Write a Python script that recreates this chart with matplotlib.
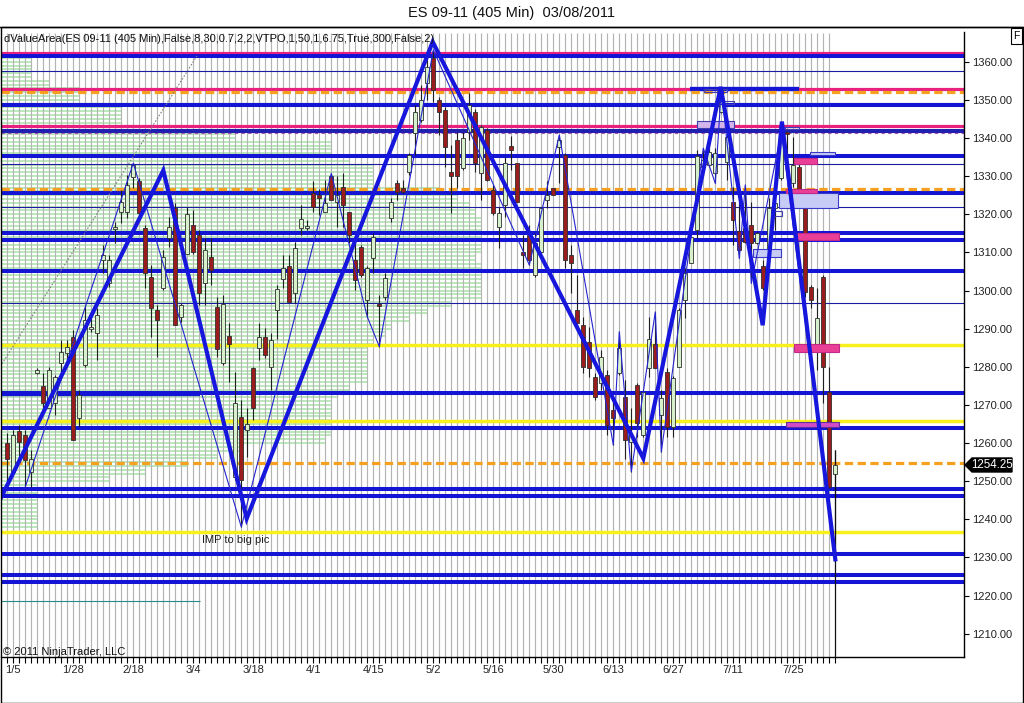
import matplotlib as mpl
mpl.use('Agg')
import matplotlib.pyplot as plt
from matplotlib.patches import Rectangle, Polygon
import numpy as np

plt.rcParams['font.family'] = ['Liberation Sans', 'DejaVu Sans']

W, H = 1024, 703

# ---- candles (one per 405 min bar) ----
opens = [1259.9, 1252.3, 1263.2, 1262.1, 1252.5, 1278.3, 1275.0, 1269.1, 1270.4, 1280.9,
         1283.5, 1287.7, 1266.7, 1280.5, 1290.0, 1288.8, 1308.0, 1301.9, 1316.2, 1320.7,
         1320.7, 1329.7, 1328.6, 1316.3, 1303.6, 1294.9, 1300.6, 1313.9, 1321.6, 1293.1,
         1309.7, 1317.2, 1314.6, 1301.9, 1308.9, 1295.8, 1280.9, 1288.0, 1251.2, 1266.9,
         1263.4, 1279.6, 1284.8, 1287.9, 1280.0, 1294.9, 1302.9, 1306.3, 1299.3, 1316.3,
         1316.5, 1325.5, 1325.0, 1320.7, 1329.9, 1323.3, 1327.2, 1320.7, 1308.0, 1311.5,
         1297.5, 1308.4, 1296.3, 1298.4, 1318.9, 1328.1, 1326.8, 1331.2, 1341.2, 1344.7,
         1354.3, 1360.9, 1349.9, 1347.3, 1331.2, 1339.5, 1332.0, 1341.6, 1346.9, 1330.7,
         1342.1, 1326.4, 1316.7, 1322.4, 1337.9, 1333.4, 1310.0, 1314.6, 1304.1, 1310.2,
         1323.7, 1326.8, 1337.7, 1335.5, 1309.3, 1294.9, 1290.9, 1286.6, 1277.4, 1275.7,
         1277.8, 1268.7, 1278.3, 1272.1, 1260.3, 1275.2, 1262.1, 1279.6, 1286.1, 1267.3,
         1278.7, 1264.3, 1280.0, 1297.5, 1307.1, 1315.9, 1332.5, 1332.9, 1330.7, 1346.9,
         1333.8, 1323.3, 1315.5, 1316.3, 1317.2, 1312.4, 1306.3, 1310.2, 1321.6, 1329.4,
         1341.3, 1328.1, 1332.5, 1322.9, 1301.0, 1286.1, 1303.5, 1273.5, 1252.0]
highs = [1262.6, 1263.4, 1264.7, 1263.4, 1258.2, 1279.8, 1278.3, 1280.0, 1277.8, 1287.0,
         1287.0, 1289.6, 1273.9, 1296.2, 1294.4, 1295.4, 1311.9, 1309.3, 1318.0, 1326.4,
         1330.3, 1333.4, 1329.4, 1317.2, 1306.7, 1296.2, 1310.6, 1319.3, 1322.9, 1296.6,
         1322.0, 1321.1, 1315.9, 1313.7, 1313.7, 1298.4, 1298.8, 1291.4, 1278.7, 1271.3,
         1269.1, 1280.0, 1291.4, 1290.1, 1288.8, 1301.4, 1309.3, 1309.3, 1312.8, 1322.4,
         1318.5, 1328.6, 1326.5, 1329.0, 1330.7, 1329.9, 1330.7, 1320.7, 1312.4, 1311.9,
         1306.3, 1315.0, 1298.8, 1304.5, 1324.2, 1329.0, 1329.0, 1336.0, 1348.6, 1353.9,
         1360.9, 1363.1, 1350.8, 1348.2, 1338.2, 1341.6, 1341.6, 1351.7, 1347.7, 1343.4,
         1342.6, 1327.7, 1322.0, 1335.1, 1340.5, 1333.4, 1314.6, 1317.2, 1315.0, 1322.0,
         1328.6, 1326.8, 1340.8, 1336.0, 1311.9, 1304.1, 1293.1, 1290.5, 1278.3, 1284.4,
         1279.1, 1272.1, 1289.2, 1276.5, 1269.1, 1275.7, 1273.5, 1293.1, 1294.4, 1273.9,
         1279.6, 1277.5, 1295.5, 1305.8, 1314.1, 1336.8, 1337.3, 1337.3, 1337.3, 1353.0,
         1344.7, 1327.2, 1323.3, 1327.7, 1323.3, 1315.3, 1308.0, 1324.2, 1323.3, 1341.6,
         1341.6, 1340.3, 1333.4, 1323.3, 1301.5, 1300.6, 1304.1, 1280.0, 1258.2]
lows = [1248.5, 1252.0, 1255.5, 1248.5, 1248.5, 1278.0, 1267.8, 1269.1, 1267.3, 1278.3,
        1281.8, 1260.8, 1264.3, 1280.0, 1289.2, 1281.8, 1304.5, 1301.0, 1312.4, 1317.6,
        1318.9, 1326.8, 1319.3, 1300.6, 1287.9, 1282.6, 1300.2, 1311.5, 1290.9, 1291.8,
        1309.7, 1309.7, 1296.2, 1296.2, 1301.4, 1282.6, 1280.5, 1276.1, 1250.3, 1238.0,
        1256.4, 1266.0, 1281.8, 1282.2, 1273.9, 1287.4, 1300.6, 1297.1, 1296.6, 1314.6,
        1315.9, 1320.7, 1319.8, 1320.7, 1323.7, 1316.7, 1316.7, 1312.4, 1300.2, 1303.6,
        1293.1, 1304.5, 1285.3, 1297.5, 1318.0, 1323.7, 1325.5, 1330.3, 1335.5, 1344.3,
        1349.9, 1349.5, 1340.8, 1332.5, 1320.2, 1326.8, 1331.6, 1339.5, 1331.2, 1323.7,
        1328.6, 1319.8, 1311.1, 1319.3, 1331.6, 1323.3, 1305.8, 1306.7, 1303.6, 1310.2,
        1321.6, 1325.0, 1328.1, 1305.8, 1299.3, 1290.5, 1278.3, 1277.4, 1271.3, 1273.9,
        1262.1, 1259.5, 1277.8, 1255.9, 1252.5, 1261.7, 1261.7, 1277.4, 1279.6, 1257.7,
        1261.7, 1261.7, 1280.0, 1292.7, 1307.1, 1313.7, 1331.6, 1332.5, 1328.1, 1346.5,
        1329.0, 1311.9, 1308.4, 1312.4, 1301.9, 1312.1, 1300.2, 1310.0, 1316.0, 1329.0,
        1332.5, 1327.2, 1326.0, 1298.4, 1295.3, 1279.1, 1270.4, 1248.1, 1229.5]
closes = [1255.7, 1262.1, 1260.3, 1255.5, 1255.7, 1279.1, 1270.4, 1279.1, 1277.4, 1283.8,
          1285.1, 1260.8, 1272.6, 1292.3, 1290.2, 1293.6, 1309.3, 1308.0, 1316.4, 1323.3,
          1327.7, 1332.9, 1320.3, 1304.5, 1295.3, 1292.3, 1308.9, 1316.6, 1290.9, 1296.2,
          1320.0, 1310.2, 1299.3, 1310.6, 1305.4, 1284.6, 1296.5, 1286.0, 1270.4, 1250.3,
          1265.1, 1269.1, 1287.9, 1283.1, 1287.0, 1300.3, 1305.8, 1297.1, 1311.1, 1318.7,
          1316.7, 1322.0, 1324.2, 1322.9, 1323.7, 1325.0, 1322.4, 1314.6, 1302.8, 1304.1,
          1305.8, 1314.1, 1296.0, 1303.2, 1323.3, 1325.9, 1325.9, 1335.5, 1346.9, 1349.9,
          1358.7, 1352.6, 1346.9, 1337.7, 1329.9, 1329.9, 1339.9, 1348.6, 1333.4, 1343.0,
          1329.0, 1320.2, 1320.2, 1333.4, 1336.8, 1323.3, 1309.2, 1308.0, 1312.4, 1321.6,
          1325.0, 1325.0, 1339.5, 1308.0, 1307.1, 1291.4, 1280.0, 1279.6, 1272.1, 1282.6,
          1264.7, 1266.5, 1284.8, 1260.8, 1262.1, 1265.2, 1273.5, 1287.4, 1279.6, 1271.7,
          1264.3, 1277.0, 1294.9, 1304.5, 1314.1, 1335.3, 1334.2, 1336.4, 1336.0, 1352.6,
          1340.3, 1318.5, 1310.6, 1312.8, 1312.4, 1315.0, 1300.6, 1321.6, 1322.9, 1340.3,
          1341.1, 1332.9, 1326.4, 1299.7, 1297.5, 1292.7, 1280.0, 1248.5, 1254.25]

date_labels = ['1/5', '1/28', '2/18', '3/4', '3/18', '4/1', '4/15', '5/2', '5/16',
               '5/30', '6/13', '6/27', '7/11', '7/25']
date_label_bars = [1, 11, 21, 31, 41, 51, 61, 71, 81, 91, 101, 111, 121, 131]

# ---- volume / TPO profile (2 point bins, width in bars) ----
profile_prices = list(range(1238, 1362, 2))
profile_counts = [6, 6, 6, 6, 6, 6, 18, 24, 31, 36, 40, 54, 55, 55, 55, 55, 55, 56, 58, 61,
                  61, 61, 61, 61, 62, 64, 65, 68, 71, 75, 80, 80, 80, 80, 80, 79, 80, 80,
                  80, 80, 80, 79, 78, 76, 73, 62, 62, 62, 58, 55, 55, 39, 39, 20, 20, 20,
                  13, 13, 8, 5, 5, 5]

# ---- horizontal levels ----
blue_levels = [1361.5, 1348.6, 1335.3, 1325.6, 1315.0, 1313.2, 1305.0, 1273.1, 1263.9,
               1247.9, 1246.1, 1230.8, 1225.3, 1223.5]
navy_levels = [1357.6, 1349.2, 1333.2, 1321.8, 1296.8]
dark_level = [1341.8]
magenta_levels = [1362.2, 1352.9, 1343.05]
orange_levels = [1352.05, 1326.6, 1254.75]
yellow_levels = [1285.6, 1265.7, 1236.8]
teal_level = 1218.5
teal_end_bar = 32.1
blue_seg_start = [113.8, -1.05]
blue_seg_end = [131.9, 32.1]
blue_seg_price = [1352.9, 1272.8]

# ---- zones (bar start, bar end, price low, price high) ----
hollow_zones = [(116.1, 120.0, 1352.1, 1352.8), (117.9, 121.1, 1348.8, 1349.7),
                (129.6, 132.0, 1342.3, 1343.0), (127.7, 129.1, 1319.5, 1320.8)]
purple_zones = [(115.0, 121.1, 1342.6, 1344.4)]
lightblue_zones = [(133.8, 138.0, 1335.5, 1336.4), (128.6, 138.4, 1321.6, 1325.6),
                   (124.2, 128.9, 1308.7, 1310.8)]
pink_zones = [(131.2, 135.0, 1333.1, 1334.8), (129.8, 135.0, 1325.6, 1326.6),
              (131.1, 138.7, 1313.2, 1315.0), (131.1, 138.7, 1284.0, 1286.1)]
violet_zones = [(129.8, 138.7, 1264.1, 1265.5)]

# ---- swing lines ----
zz_big_bars = [-1.2, 26.0, 39.9, 70.9, 106.0, 118.9, 125.9, 129.1, 138.0]
zz_big_prices = [1245.2, 1331.5, 1240.2, 1365.2, 1256.0, 1353.4, 1290.9, 1344.3, 1229.5]
zz_small_bars = [3, 21, 39, 54, 60, 62, 71, 87, 92, 101, 102, 104, 108, 109, 116, 118,
                 119, 122, 123, 124, 129, 138]
zz_small_prices = [1248.5, 1333.4, 1238.0, 1330.7, 1293.1, 1285.3, 1363.1, 1306.7, 1340.8,
                   1259.5, 1289.2, 1252.5, 1294.4, 1257.7, 1337.3, 1328.1, 1353.0, 1308.4,
                   1327.7, 1301.9, 1341.6, 1229.5]
trend_bars = [-1.2, 31.6]
trend_prices = [1280.0, 1361.5]

YMIN, YMAX = 1203.9, 1369.1
XMIN, XMAX = -1.05, 159.45

fig = plt.figure(figsize=(W / 100, H / 100), dpi=100)
ax = fig.add_axes([1 / W, 1 - 657 / H, 963 / W, 630 / H])
ax.set_xlim(XMIN, XMAX)
ax.set_ylim(YMIN, YMAX)

nbars = len(closes)
bars = np.arange(nbars)

# profile
pl, pw = [], []
for p, c in zip(profile_prices, profile_counts):
    for lvl in (p, p + 1):
        pl.append(lvl)
        pw.append(c)
pl = np.array(pl)
ax.hlines(pl, XMIN, XMIN + np.array(pw), color='#b2e6b2', lw=1.25, zorder=1)

# vertical grid
ax.vlines(bars[:-1], YMIN, 1367.5, color='#b4b4b4', lw=0.85, zorder=1.5)

# levels
ax.hlines(navy_levels, XMIN, XMAX, color='#1c1ca0', lw=0.8, zorder=2)
ax.hlines(magenta_levels, XMIN, XMAX, color='#e8207e', lw=2.3, zorder=2)
ax.hlines(yellow_levels, XMIN, XMAX, color='#f8f01c', lw=2.5, zorder=2)
ax.hlines(blue_levels, XMIN, XMAX, color='#1414d4', lw=2.9, zorder=2.1)
ax.hlines(dark_level, XMIN, XMAX, color='#2020b0', lw=2.9, zorder=2.1)
ax.hlines([d - 0.45 for d in dark_level], XMIN, XMAX, color='#a050b0', lw=0.8,
          linestyles=(0, (3, 3)), zorder=2.2)
ax.hlines(blue_seg_price, blue_seg_start, blue_seg_end, color='#1414d4', lw=3.1, zorder=2.1)
for lv in orange_levels:
    ax.plot([XMIN, XMAX], [lv, lv], color='#f5a01e', lw=2.3, dashes=(2.6, 1.4), zorder=2.2)
ax.hlines(teal_level, XMIN, teal_end_bar, color='#2a8a8a', lw=0.8, zorder=2)

ax.plot(trend_bars, trend_prices, color='#808080', lw=0.8, ls=(0, (1.5, 1.5)), zorder=2.3)

# candles
o = np.array(opens); c = np.array(closes)
ax.vlines(bars, lows, highs, color='#202020', lw=0.8, zorder=3)
up = c >= o
body_lo = np.minimum(o, c)
body_h = np.maximum(np.abs(c - o), 0.35)
ax.bar(bars[up], body_h[up], bottom=body_lo[up], width=0.7, color='#d6f0cc',
       edgecolor='#303030', lw=0.6, zorder=3.1)
ax.bar(bars[~up], body_h[~up], bottom=body_lo[~up], width=0.7, color='#9a1c1c',
       edgecolor='#303030', lw=0.6, zorder=3.1)
ax.vlines(bars[-1], YMIN, highs[-1], color='#101010', lw=0.9, zorder=3)


def zones(lst, face, edge, lw=0.8):
    for b0, b1, p0, p1 in lst:
        ax.add_patch(Rectangle((b0, p0), b1 - b0, p1 - p0, facecolor=face,
                               edgecolor=edge, lw=lw, zorder=3.5))


zones(hollow_zones, 'none', '#4040b0')
zones(purple_zones, '#d4b4ec', '#4040b0')
zones(lightblue_zones, '#c6ccf6', '#3a3ac8')
zones(pink_zones, '#ea3f96', '#c02a8a')
zones(violet_zones, '#d24cc8', '#6030a0')

# swings
ax.plot(zz_small_bars, zz_small_prices, color='#2424d0', lw=0.8, zorder=4)
ax.plot(zz_big_bars, zz_big_prices, color='#1616dc', lw=3.0, zorder=5,
        solid_joinstyle='miter')

ax.text(32.4, 1234.6, 'IMP to big pic', fontsize=8, color='#202020', va='center',
        ha='left', zorder=6)

# axes styling
for s in ('top', 'left'):
    ax.spines[s].set_visible(False)
ax.spines['bottom'].set_linewidth(1.0)
ax.spines['right'].set_linewidth(1.0)
ax.spines['right'].set_bounds(YMIN, 1367.8)
ax.yaxis.tick_right()
ax.set_yticks(np.arange(1210, 1361, 10))
ax.set_yticklabels(['%.2f' % v for v in np.arange(1210, 1361, 10)])
ax.tick_params(axis='y', direction='out', length=3.6, width=0.8, pad=2.5,
               labelsize=8, labelcolor='#222222')
ax.set_xticks(date_label_bars)
ax.set_xticklabels(date_labels)
ax.set_xticks(bars, minor=True)
ax.tick_params(axis='x', which='both', direction='out', length=4, width=0.8, pad=2,
               labelsize=8, labelcolor='#222222')

# texts
fig.text(512 / W, 1 - 13 / H, 'ES 09-11 (405 Min)  03/08/2011', ha='center', va='center',
         fontsize=10.5, color='#111111')
fig.text(4 / W, 1 - 39 / H,
         'dValueArea(ES 09-11 (405 Min),False,8,30,0.7,2,2,VTPO,1,50,1,6.75,True,300,False,2)',
         ha='left', va='center', fontsize=8, color='#111111', zorder=7)
fig.text(3 / W, 1 - 652 / H, '\u00a9 2011 NinjaTrader, LLC', ha='left', va='center',
         fontsize=8, color='#111111')
fig.text(1016.5 / W, 1 - 36 / H, 'F', ha='center', va='center', fontsize=7.5,
         bbox=dict(boxstyle='square,pad=0.25', fc='white', ec='black', lw=0.8))

# outer frame
fig.add_artist(plt.Line2D([0, 1], [1 - 27 / H, 1 - 27 / H], color='black', lw=1.0,
                          transform=fig.transFigure))
fig.add_artist(Rectangle((0.5 / W, 0.5 / H), 1 - 1.5 / W, 1 - 27 / H - 0.5 / H,
                         fill=False, ec='black', lw=1.0, transform=fig.transFigure))

# last price marker
yp = ax.transData.transform((0, closes[-1]))[1]
xs = [965, 972, 1012, 1012, 972]
ys = [yp, yp + 7, yp + 7, yp - 7, yp - 7]
fig.add_artist(Polygon(np.column_stack([np.array(xs) / W, np.array(ys) / H]), closed=True,
                       fc='black', ec='black', transform=fig.transFigure))
fig.text(992 / W, yp / H, '%.2f' % closes[-1], color='white', ha='center', va='center',
         fontsize=8.3)

fig.savefig('out.png', dpi=100)
